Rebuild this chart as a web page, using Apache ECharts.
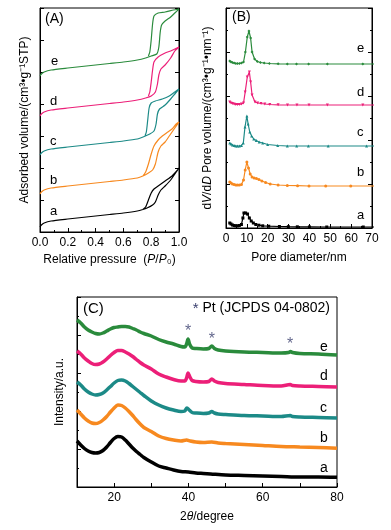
<!DOCTYPE html>
<html>
<head>
<meta charset="utf-8">
<script src="https://cdn.jsdelivr.net/npm/echarts@6/dist/echarts.min.js"></script>
<style>
html, body { margin: 0; background: #fff; }
#main { width: 391px; height: 530px; }
</style>
</head>
<body>
<div id="main"></div>
<script>
// sample names and colours (a..e)
const sampleNames = ['a', 'b', 'c', 'd', 'e']
const sampleColors = ['#000000', '#f7891f', '#1c8a87', '#ec1f78', '#2a8b3c']

// (A) N2 isotherms, [P/P0, volume] - adsorption branch then desorption branch back
const isoA = [[0,5],[0.01,7],[0.03,9],[0.08,11],[0.2,13],[0.3,14.5],[0.4,16],[0.5,17.5],[0.6,19],[0.7,21],[0.74,22.5],[0.77,24],[0.81,27],[0.83,30],[0.85,37],[0.87,42],[0.9,46],[0.94,52],[0.98,60],[1.0,64],
  [0.99,62],[0.95,56],[0.9,51],[0.85,46],[0.82,43],[0.8,39],[0.78,32],[0.76,25],[0.74,22.5]]
const isoB = [[0,38],[0.01,40],[0.03,42],[0.08,44],[0.2,46],[0.3,47.5],[0.4,49],[0.5,50.5],[0.6,52],[0.7,54],[0.74,56],[0.78,59],[0.81,62],[0.83,68],[0.85,80],[0.87,86],[0.9,90],[0.93,96],[0.97,104],[1.0,110],
  [0.98,108],[0.95,103],[0.92,100],[0.88,96],[0.85,92],[0.82,86],[0.8,78],[0.78,68],[0.76,60],[0.74,56]]
const isoC = [[0,77],[0.01,79],[0.03,81],[0.08,83],[0.2,85],[0.3,86.5],[0.4,88],[0.5,89.5],[0.6,91],[0.7,93],[0.75,95.5],[0.79,98],[0.82,101],[0.835,108],[0.845,118],[0.86,123],[0.9,127],[0.94,133],[0.97,138],[1.0,143],
  [0.97,140],[0.93,136],[0.88,133],[0.83,131],[0.8,129],[0.785,124],[0.775,112],[0.765,100],[0.755,96]]
const isoD = [[0,116],[0.01,118],[0.03,120],[0.08,122],[0.2,124],[0.3,125.5],[0.4,127],[0.5,128.5],[0.6,130],[0.7,132],[0.76,134],[0.8,136],[0.83,140],[0.845,148],[0.855,157],[0.87,163],[0.9,167],[0.94,174],[0.97,181],[1.0,185],
  [0.97,183],[0.94,181],[0.9,179],[0.85,175],[0.82,170],[0.81,162],[0.8,150],[0.79,140],[0.78,136]]
const isoE = [[0,156],[0.01,158],[0.03,160],[0.08,162],[0.2,164],[0.3,165.5],[0.4,167],[0.5,168.5],[0.6,170],[0.7,172],[0.76,174],[0.8,176],[0.84,178],[0.855,185],[0.865,200],[0.875,207],[0.9,211],[0.94,215],[0.97,219],[1.0,223],
  [0.96,222],[0.9,220],[0.85,219],[0.82,216],[0.81,208],[0.8,192],[0.79,180],[0.78,176]]

// (B) pore size distribution, [diameter nm, dV/dD]
const psdA = [[1.8,5],[2.4,4],[3.1,3],[3.9,2.5],[4.7,2.2],[5.5,2.2],[6.4,2.5],[7.4,3.5],[8.1,10],[8.6,15],[9.4,15],[10.3,14],[11.2,10],[12.1,7],[13.1,5],[14.3,3.5],[15.8,2.8],[17.6,2.2],[20.5,1.8],[25.6,1.5],[29.9,1.3],[34.2,1.2],[40,1.1],[48.3,1],[65.8,1],[75,1]]
const psdB = [[1.8,46],[2.4,45],[3.1,44],[3.9,43.5],[4.7,43],[5.5,43],[6.4,43],[7.4,43.5],[8.4,48],[9.2,58],[10,66],[10.8,60],[11.6,54],[12.5,51],[13.5,50],[14.6,49.5],[15.8,48.5],[17.2,47],[19,45.5],[21.2,44],[25,43],[29.4,42.5],[34.3,42.3],[39.8,42],[47.8,42],[59.8,42],[75,42]]
const psdC = [[1.8,85],[2.4,84],[3.1,83],[3.9,82.5],[4.7,82],[5.5,82],[6.4,82],[7.4,82.5],[8.3,85],[9.1,101],[10,112],[10.6,104],[11.4,96],[12.3,92],[13.3,89],[14.5,87.5],[15.9,86],[17.6,85],[20,83.5],[24.8,82.5],[29.4,82],[33.9,82],[39.5,82],[49,82],[67.4,82],[75,82]]
const psdD = [[1.8,126],[2.4,125],[3.1,124.5],[3.9,124],[4.7,123.5],[5.5,123.5],[6.4,123.5],[7.4,124],[8.4,125],[9.2,136],[10.2,151],[11.2,156],[11.8,146],[12.5,133],[13.9,126],[15.2,125],[16.8,124.5],[18.6,124],[21,123.5],[25,123.2],[29.5,123],[34,123],[39.8,123],[48.6,123],[65.6,123],[75,123]]
const psdE = [[1.8,167],[2.4,166],[3.1,165.5],[3.9,165],[4.7,164.5],[5.5,164.5],[6.4,164.5],[7.4,165],[8.4,166],[9.3,176],[10.2,191],[11,197],[11.8,190],[12.5,176],[13.7,169],[15,166.5],[16.5,165.5],[18.3,165],[20.8,164.5],[25,164.2],[29.4,164],[33.8,164],[39.6,164],[48.6,164],[65.6,164],[75,164]]
const psdSymbols = ['rect', 'circle', 'triangle', 'triangle', 'diamond']
const psdRotate = [0, 0, 0, 180, 0]

// (C) XRD patterns, [2theta, intensity] (stacked)
const xrdA = [[10,46],[11,42],[12,38.5],[13,36],[14,34.5],[15,34],[16,34.5],[17,36.5],[18,40],[19,44.5],[20,48.5],[21,50.5],[22,50],[23,47],[24,43],[25,39],[26,35.5],[27,32.5],[28,29.5],[30,25],[32,21],[34,19],[36,17],[38,15.5],[40,15],[42,14],[44,13.5],[46,13],[50,12],[55,11.5],[60,11],[65,10.5],[70,10],[75,10],[80,9.7]]
const xrdB = [[10,77],[11,73],[12,69],[13,66],[14,64],[15,63.5],[16,64.5],[17,67],[18,70.5],[19,75],[20,79],[21,82],[22,81.5],[23,79],[24,75.5],[25,71.5],[26,67],[27,63],[28,59.5],[30,55.5],[32,51],[34,48.5],[36,47],[38,46],[39.5,47],[40.5,46],[42,45],[44,44.5],[46.3,45],[48,44],[50,43.5],[55,42.5],[60,41.5],[65,40.5],[70,40],[75,39.5],[80,38.7]]
const xrdC = [[10,105],[11,102],[12,98],[13,95],[14,93],[15,92],[16,92.5],[17,94],[18,97],[19,100.5],[20,104],[21,106.5],[22,107],[23,106],[24,103.5],[25,100.5],[26,97.5],[27,94.5],[28,91.5],[30,86],[32,82],[34,79],[36,77],[38,75.5],[39,76],[39.6,79],[40.2,77],[41,74.5],[42,74],[44,73.5],[45.5,74],[46.3,75.5],[47,74],[48,73],[50,72.5],[55,71.5],[60,71],[65,70.5],[67.4,71.5],[68,70.5],[70,70],[75,69.5],[80,69]]
const xrdD = [[10,136],[11,133],[12,129],[13,126],[14,123.5],[15,122.5],[16,123],[17,125],[18,128],[19,131.5],[20,134.5],[21,136.5],[22,136.5],[23,135],[24,133],[25,130.5],[26,127.5],[27,124.5],[28,122],[30,118],[32,113],[34,110],[36,107.5],[38,106],[39,106],[39.5,109],[39.9,114],[40.4,110],[41,106.5],[42,105.5],[44,105],[45.5,105.5],[46.3,108],[47,106],[48,104.5],[50,103.5],[55,102.5],[60,101.5],[65,101],[67.4,102.5],[68,101.5],[70,101],[75,100.5],[80,100]]
const xrdE = [[10,167],[11,164],[12,160],[13,157],[14,155],[15,153.5],[16,153],[17,154],[18,156],[19,158],[20,159.5],[21,160],[22,160.5],[23,160.5],[24,160],[25,158.5],[26,157],[27,155],[28,153.5],[30,151],[32,147.5],[34,145],[36,143],[38,140.5],[39,140],[39.5,143],[39.9,148],[40.3,143],[41,139],[42,138.5],[44,138],[45.5,138.5],[46.3,141],[47,138.5],[48,137],[50,136],[55,135],[60,134.5],[65,134],[67,134.5],[67.5,135.5],[68,134.5],[70,133.5],[75,133],[80,132]]
// Pt reflections marked with *
const ptPeaks = [[39.9,155],[46.3,147],[67.4,142]]

const FONT = 'Liberation Sans'
const tickStyle = { show: true, inside: true, length: 4, lineStyle: { color: '#000', width: 1 } }
const minorStyle = { show: true, splitNumber: 2, length: 2, lineStyle: { color: '#000', width: 1 } }
const lineStyle = { show: true, lineStyle: { color: '#000', width: 1 } }
const labelStyle = { color: '#000', fontSize: 12, fontFamily: FONT }
const nameStyle = {
    color: '#000', fontSize: 12, fontFamily: FONT,
    rich: { i: { fontStyle: 'italic', fontSize: 12, fontFamily: FONT, color: '#000' } }
}

const yBlank = (grid, max, interval, pos) => ({
    type: 'value', gridIndex: grid, min: 0, max: max, interval: interval, position: pos,
    axisLine: lineStyle, axisTick: tickStyle, axisLabel: { show: false }, splitLine: { show: false }
})

const isoData = [isoA, isoB, isoC, isoD, isoE]
const psdData = [psdA, psdB, psdC, psdD, psdE]
const xrdData = [xrdA, xrdB, xrdC, xrdD, xrdE]

const series = []
isoData.forEach((d, i) => {
    series.push({
        type: 'line', xAxisIndex: 0, yAxisIndex: 0, data: d, showSymbol: false, smooth: 0.2,
        lineStyle: { color: sampleColors[i], width: 1.2 }, silent: true
    })
})
psdData.forEach((d, i) => {
    series.push({
        type: 'line', xAxisIndex: 1, yAxisIndex: 2, data: d, symbol: psdSymbols[i], symbolRotate: psdRotate[i], symbolSize: 3,
        itemStyle: { color: sampleColors[i] }, lineStyle: { color: sampleColors[i], width: 1.2 }, silent: true
    })
})
xrdData.forEach((d, i) => {
    series.push({
        type: 'line', xAxisIndex: 2, yAxisIndex: 4, data: d, showSymbol: false, smooth: 0.3,
        lineStyle: { color: sampleColors[i], width: 3.5 }, silent: true
    })
})
series.push({
    type: 'scatter', xAxisIndex: 2, yAxisIndex: 4, data: ptPeaks, symbolSize: 0,
    label: { show: true, formatter: '*', position: 'inside', color: '#3a3f6e', fontSize: 16, fontFamily: FONT }
})

// curve letters and panel tags
const letter = (x, y, t, s) => ({ type: 'text', left: x, top: y, style: { text: t, fill: '#000', font: (s || 13) + 'px "Liberation Sans"' } })
const graphic = [
    letter(45, 12, '(A)', 14), letter(232, 10, '(B)', 14), letter(83, 301, '(C)', 15),
    letter(51, 55, 'e'), letter(50, 95, 'd'), letter(50, 135, 'c'), letter(50, 174, 'b'), letter(50, 205, 'a'),
    letter(357, 42, 'e'), letter(357, 86, 'd'), letter(357, 126, 'c'), letter(357, 166, 'b'), letter(357, 209, 'a'),
    letter(320, 340, 'e', 14), letter(320, 369, 'd', 14), letter(320, 401, 'c', 14), letter(320, 431, 'b', 14), letter(320, 461, 'a', 14),
    {
        type: 'text', right: 61, top: 301,
        style: {
            text: '{s|*} Pt (JCPDS 04-0802)', fill: '#000', font: '14px "Liberation Sans"',
            rich: { s: { fill: '#3a3f6e', font: '15px "Liberation Sans"' } }
        }
    }
]

const option = {
    animation: false,
    backgroundColor: '#fff',
    grid: [
        { left: 40, top: 8, width: 139, height: 224, show: true, borderColor: '#000', borderWidth: 1 },
        { left: 226, top: 8, width: 146, height: 220, show: true, borderColor: '#000', borderWidth: 1 },
        { left: 77, top: 297, width: 260, height: 190, show: true, borderColor: '#000', borderWidth: 1 }
    ],
    xAxis: [
        {
            type: 'value', gridIndex: 0, min: 0, max: 1, interval: 0.2,
            axisLine: lineStyle, axisTick: tickStyle, minorTick: minorStyle, splitLine: { show: false },
            axisLabel: Object.assign({ margin: 5, formatter: v => v.toFixed(1) }, labelStyle),
            name: 'Relative pressure  ({i|P}/{i|P}₀)', nameLocation: 'middle', nameGap: 22, nameTextStyle: nameStyle
        },
        {
            type: 'value', gridIndex: 1, min: 0, max: 70, interval: 10,
            axisLine: lineStyle, axisTick: tickStyle, minorTick: minorStyle, splitLine: { show: false },
            axisLabel: Object.assign({ margin: 5 }, labelStyle),
            name: 'Pore diameter/nm', nameLocation: 'middle', nameGap: 24, nameTextStyle: nameStyle
        },
        {
            type: 'value', gridIndex: 2, min: 10, max: 80, interval: 10,
            axisLine: lineStyle, axisTick: tickStyle, splitLine: { show: false },
            axisLabel: Object.assign({ margin: 5, formatter: v => (v % 20 === 0 ? v : '') }, labelStyle),
            name: '2{i|θ}/degree', nameLocation: 'middle', nameGap: 24, nameTextStyle: nameStyle
        }
    ],
    yAxis: [
        Object.assign(yBlank(0, 224, 32, 'left'), {
            name: 'Adsorbed volume/(cm³•g⁻¹STP)', nameLocation: 'middle', nameGap: 9, nameTextStyle: nameStyle
        }),
        yBlank(0, 224, 32, 'right'),
        Object.assign(yBlank(1, 220, 44, 'left'), {
            minorTick: minorStyle,
            name: 'd{i|V}/d{i|D} Pore volume/(cm³•g⁻¹•nm⁻¹)', nameLocation: 'middle', nameGap: 12, nameTextStyle: nameStyle
        }),
        Object.assign(yBlank(1, 220, 44, 'right'), { minorTick: minorStyle }),
        Object.assign(yBlank(2, 190, 38, 'left'), {
            minorTick: minorStyle,
            name: 'Intensity/a.u.', nameLocation: 'middle', nameGap: 11, nameTextStyle: nameStyle
        })
    ],
    series: series,
    graphic: graphic
}

const chart = echarts.init(document.getElementById('main'), null, { renderer: 'canvas' })
chart.setOption(option)
</script>
</body>
</html>
